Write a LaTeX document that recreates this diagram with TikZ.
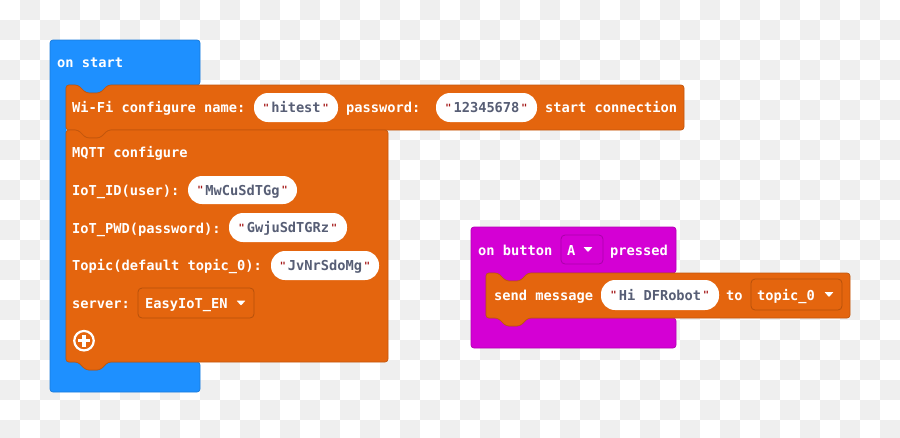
\documentclass[tikz,border=0pt]{standalone}
\usepackage{fontspec}
\setmonofont{DejaVu Sans Mono}
\definecolor{mblue}{HTML}{1E90FF}
\definecolor{morange}{HTML}{E4650E}
\definecolor{mpurple}{HTML}{D400D4}
\definecolor{chk}{HTML}{EFEFEF}
\definecolor{strtxt}{HTML}{575E75}
\definecolor{qred}{HTML}{A31515}
\newcommand\qq{{\color{qred}\fontsize{10}{10}\selectfont\raisebox{1.5pt}{"}}}
\newcommand\qsp{\hspace{2pt}}
\tikzset{
  blk/.style={line width=0.7pt, rounded corners=3pt},
  lbl/.style={anchor=base west, inner sep=0pt, text=white, font=\ttfamily\bfseries\fontsize{13.7}{16}\selectfont},
  pill/.style={fill=white, rounded corners=14pt, minimum height=29pt, inner sep=0pt,
    text height=10pt, text depth=0pt, text=strtxt, font=\ttfamily\bfseries\fontsize{13.7}{16}\selectfont},
  ddbox/.style={rounded corners=4pt, line width=0.8pt, inner sep=0pt, minimum height=30pt},
  tri/.style={fill=white, rounded corners=0.6pt}
}
\begin{document}
\begin{tikzpicture}[x=1pt,y=-1pt]
\useasboundingbox (0,0) rectangle (900,437);
\clip (0,0) rectangle (900,437);
% checkerboard background
\foreach \j in {0,2,...,20} { \foreach \i in {1,3,...,43} { \fill[chk] (20*\i,20*\j) rectangle ++(20,20); } }
\foreach \j in {1,3,...,21} { \foreach \i in {0,2,...,44} { \fill[chk] (20*\i,20*\j) rectangle ++(20,20); } }

% ---------- on start ----------
\draw[blk, fill=mblue, draw=mblue!85!black] (50,40) -- (200,40) -- (200,85) -- (108,85) -- (100,93) -- (86,93) -- (78,85) -- (66,85) -- (66,362) -- (78,362) -- (86,370) -- (100,370) -- (108,362) -- (200,362) -- (200,392) -- (50,392) -- cycle;
\draw[blk, fill=morange, draw=morange!85!black] (66,85) -- (78,85) -- (86,93) -- (100,93) -- (108,85) -- (684,85) -- (684,130) -- (108,130) -- (100,138) -- (86,138) -- (78,130) -- (66,130) -- cycle;
\draw[blk, fill=morange, draw=morange!85!black] (66,130) -- (78,130) -- (86,138) -- (100,138) -- (108,130) -- (388,130) -- (388,362) -- (108,362) -- (100,370) -- (86,370) -- (78,362) -- (66,362) -- cycle;

\node[lbl] (onstart) at (57,67) {on start};
\node[lbl] (wifi) at (72,112.5) {Wi-Fi configure name:};
\node[pill, minimum width=84pt] (ssid) at (296,107.5) {\qq\qsp hitest\qsp\qq};
\node[lbl] (pwdl) at (346,112.5) {password:};
\node[pill, minimum width=101pt] (pwd) at (486.5,107.5) {\qq\qsp 12345678\qsp\qq};
\node[lbl] (startc) at (545,112.5) {start connection};

\node[lbl] (mqtt) at (72,157.5) {MQTT configure};
\node[lbl] (iotid) at (72,195.5) {IoT\_ID(user):};
\node[pill, minimum width=109pt, minimum height=28pt] (idv) at (242.5,190) {\qq\qsp MwCuSdTGg\qsp\qq};
\node[lbl] (iotpwd) at (72,233) {IoT\_PWD(password):};
\node[pill, minimum width=118pt] (pwdv) at (288,227.5) {\qq\qsp GwjuSdTGRz\qsp\qq};
\node[lbl] (topic) at (72,270.5) {Topic(default topic\_0):};
\node[pill, minimum width=108pt] (topv) at (325,265.5) {\qq\qsp JvNrSdoMg\qsp\qq};
\node[lbl] (server) at (72,308) {server:};
\node[ddbox, draw=morange!80!black, fill=morange, minimum width=116pt] (srv) at (196,303) {};
\node[lbl] (srvt) at (145,308) {EasyIoT\_EN};
\fill[tri] (236.5,300.5) -- (245.5,300.5) -- (241,305.5) -- cycle;
\node[circle, draw=white, line width=2.2pt, minimum size=19.5pt, inner sep=0pt] (plus) at (84,340.7) {};
\draw[white, line width=3.2pt] (plus.center) ++(-6,0) -- ++(12,0);
\draw[white, line width=3.2pt] (plus.center) ++(0,-6) -- ++(0,12);

% ---------- on button A pressed ----------
\draw[blk, fill=mpurple, draw=mpurple!85!black] (471,227) -- (676,227) -- (676,273) -- (528,273) -- (520,281) -- (506,281) -- (498,273) -- (486,273) -- (486,318) -- (498,318) -- (506,326) -- (520,326) -- (528,318) -- (676,318) -- (676,348) -- (471,348) -- cycle;
\draw[blk, fill=morange, draw=morange!85!black] (486,273) -- (498,273) -- (506,281) -- (520,281) -- (528,273) -- (850,273) -- (850,318) -- (528,318) -- (520,326) -- (506,326) -- (498,318) -- (486,318) -- cycle;

\node[lbl] (onbtn) at (478,255) {on button};
\node[ddbox, draw=mpurple!80!black, fill=mpurple, minimum width=42pt, minimum height=29pt] (btn) at (582,249.5) {};
\node[lbl] (btnA) at (567,255) {A};
\fill[tri] (583.5,247) -- (592.5,247) -- (588,252) -- cycle;
\node[lbl] (pressed) at (610,255) {pressed};

\node[lbl] (send) at (494,300) {send message};
\node[pill, minimum width=118pt, minimum height=30pt] (msg) at (660,295) {\qq\qsp Hi DFRobot\qsp\qq};
\node[lbl] (to) at (726,300) {to};
\node[ddbox, draw=morange!80!black, fill=morange, minimum width=91pt, minimum height=31pt] (tp) at (796.5,294.5) {};
\node[lbl] (tpt) at (757,300) {topic\_0};
\fill[tri] (824.5,292) -- (833.5,292) -- (829,297) -- cycle;
\end{tikzpicture}
\end{document}
